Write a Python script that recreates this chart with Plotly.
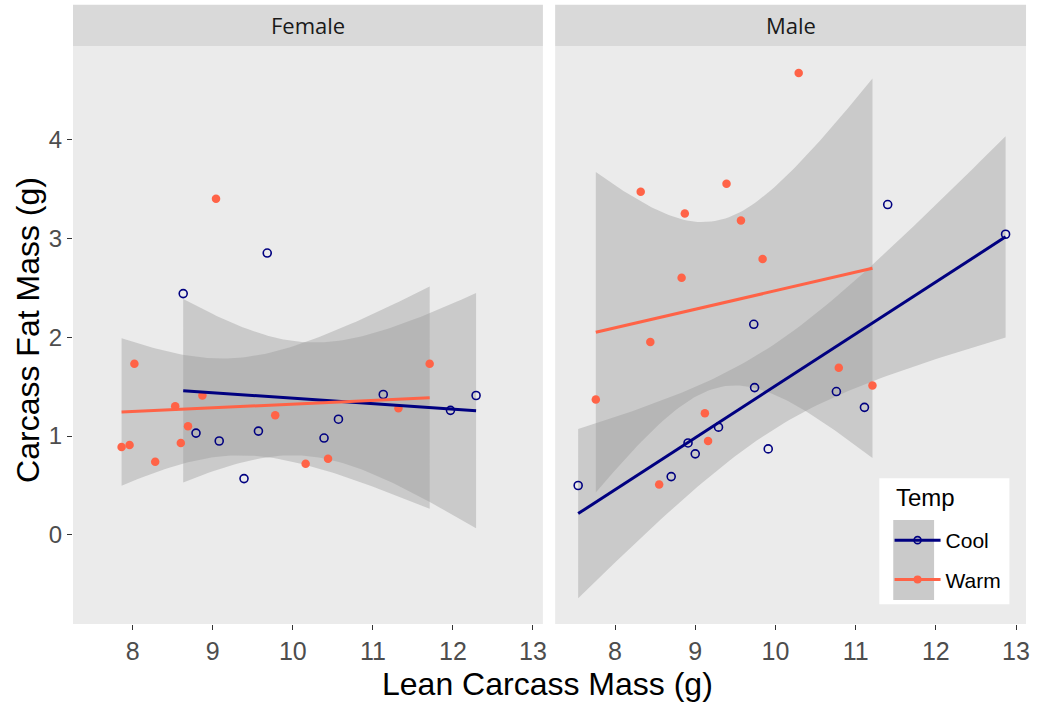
import math
import numpy as np
import plotly.graph_objects as go

# ---------------- data ----------------
female_cool_x = [8.63, 8.79, 9.08, 9.39, 9.57, 9.68, 10.39, 10.57, 11.13, 11.97, 12.29]
female_cool_y = [2.44, 1.03, 0.95, 0.57, 1.05, 2.85, 0.98, 1.17, 1.42, 1.26, 1.41]

female_warm_x = [7.86, 7.96, 8.02, 8.28, 8.53, 8.60, 8.69, 8.87, 9.04, 9.78, 10.16, 10.44, 11.32, 11.71]
female_warm_y = [0.89, 0.91, 1.73, 0.74, 1.30, 0.93, 1.10, 1.41, 3.40, 1.21, 0.72, 0.77, 1.28, 1.73]

male_cool_x = [7.54, 8.70, 8.91, 9.00, 9.29, 9.73, 9.74, 9.91, 10.76, 11.11, 11.40, 12.87]
male_cool_y = [0.50, 0.59, 0.93, 0.82, 1.09, 2.13, 1.49, 0.87, 1.45, 1.29, 3.34, 3.04]

male_warm_x = [7.76, 8.32, 8.44, 8.55, 8.83, 8.87, 9.12, 9.16, 9.39, 9.57, 9.84, 10.29, 10.79, 11.21]
male_warm_y = [1.37, 3.47, 1.95, 0.51, 2.60, 3.25, 1.23, 0.95, 3.55, 3.18, 2.79, 4.67, 1.69, 1.51]

panels = ["Female", "Male"]
temps = ["Cool", "Warm"]
x_ticks = [8, 9, 10, 11, 12, 13]
y_ticks = [0, 1, 2, 3, 4]

LEVEL = 0.975  # confidence level of the smoothing band

NAVY = "#000080"
TOMATO = "#FF6347"
colors = {"Cool": NAVY, "Warm": TOMATO}


def t_quantile(p, df):
    """Quantile of Student t by numeric integration + bisection."""
    c = math.exp(math.lgamma((df + 1) / 2) - math.lgamma(df / 2)) / math.sqrt(df * math.pi)

    def cdf(t):
        g = np.linspace(0.0, t, 4001)
        pdf = c * (1 + g ** 2 / df) ** (-(df + 1) / 2)
        return 0.5 + np.trapezoid(pdf, g)

    lo, hi = 0.0, 50.0
    for _ in range(60):
        mid = (lo + hi) / 2
        if cdf(mid) < p:
            lo = mid
        else:
            hi = mid
    return (lo + hi) / 2


def lm_band(xs, ys, n_out=80):
    x = np.asarray(xs, float)
    y = np.asarray(ys, float)
    n = len(x)
    xm = x.mean()
    sxx = ((x - xm) ** 2).sum()
    b = ((x - xm) * (y - y.mean())).sum() / sxx
    a = y.mean() - b * xm
    resid = y - (a + b * x)
    s = np.sqrt((resid ** 2).sum() / (n - 2))
    xg = np.linspace(x.min(), x.max(), n_out)
    fit = a + b * xg
    se = s * np.sqrt(1.0 / n + (xg - xm) ** 2 / sxx)
    t = t_quantile(1 - (1 - LEVEL) / 2, n - 2)
    return xg, fit, fit - t * se, fit + t * se


data = {
    ("Female", "Cool"): (female_cool_x, female_cool_y),
    ("Female", "Warm"): (female_warm_x, female_warm_y),
    ("Male", "Cool"): (male_cool_x, male_cool_y),
    ("Male", "Warm"): (male_warm_x, male_warm_y),
}

fig = go.Figure()
axis_map = {"Female": ("x", "y"), "Male": ("x2", "y2")}

# ribbons first (below lines and points)
for p in panels:
    xa, ya = axis_map[p]
    for t in temps:
        xs, ys = data[(p, t)]
        xg, fit, lo, hi = lm_band(xs, ys)
        fig.add_trace(go.Scatter(
            x=np.concatenate([xg, xg[::-1]]), y=np.concatenate([hi, lo[::-1]]),
            fill="toself", fillcolor="rgba(153,153,153,0.4)", mode="lines",
            line=dict(width=0), hoverinfo="skip", showlegend=False,
            xaxis=xa, yaxis=ya))

for p in panels:
    xa, ya = axis_map[p]
    for t in temps:
        xs, ys = data[(p, t)]
        if t == "Cool":
            marker = dict(symbol="circle-open", size=8, color=colors[t],
                          line=dict(width=1.6, color=colors[t]))
        else:
            marker = dict(symbol="circle", size=8.5, color=colors[t])
        fig.add_trace(go.Scatter(x=xs, y=ys, mode="markers", marker=marker,
                                 showlegend=False, xaxis=xa, yaxis=ya))
    for t in temps:
        xs, ys = data[(p, t)]
        xg, fit, lo, hi = lm_band(xs, ys)
        fig.add_trace(go.Scatter(x=xg, y=fit, mode="lines",
                                 line=dict(color=colors[t], width=3),
                                 showlegend=False, xaxis=xa, yaxis=ya))

# legend-only entries
for i, t in enumerate(temps):
    if t == "Cool":
        marker = dict(symbol="circle-open", size=7, color=colors[t],
                      line=dict(width=1.6, color=colors[t]))
    else:
        marker = dict(symbol="circle", size=8, color=colors[t])
    fig.add_trace(go.Scatter(x=[None], y=[None], mode="lines+markers", name=t,
                             line=dict(color=colors[t], width=3), marker=marker,
                             legendgroup=t, showlegend=True, xaxis="x2", yaxis="y2"))

W, H = 1038, 706
dom_f = [73.3 / W, 545.0 / W]
dom_m = [557.3 / W, 1030.0 / W]
dom_y = [(H - 624.0) / H, (H - 46.0) / H]
strip_y = [(H - 46.0) / H, (H - 4.7) / H]

xr = [7.253, 13.125]
yr = [-0.90, 4.943]

common_x = dict(range=xr, tickvals=x_ticks, ticktext=[str(v) for v in x_ticks],
                showgrid=False, zeroline=False, showline=False,
                ticks="outside", ticklen=5, tickwidth=1, tickcolor="#333333",
                tickfont=dict(family="Liberation Sans, Arial", size=25, color="#4D4D4D"),
                fixedrange=True)
common_y = dict(range=yr, domain=dom_y, tickvals=y_ticks,
                showgrid=False, zeroline=False, showline=False,
                ticklen=5, tickwidth=1, tickcolor="#333333",
                tickfont=dict(family="Liberation Sans, Arial", size=24, color="#4D4D4D"),
                fixedrange=True)

fig.update_layout(
    width=W, height=H,
    margin=dict(l=0, r=0, t=0, b=0),
    paper_bgcolor="white", plot_bgcolor="#EBEBEB",
    font=dict(family="Liberation Sans, Arial", color="black"),
    xaxis=dict(domain=dom_f, anchor="y", **common_x),
    xaxis2=dict(domain=dom_m, anchor="y2", **common_x),
    yaxis=dict(anchor="x", ticks="outside", **common_y),
    yaxis2=dict(anchor="x2", matches="y", showticklabels=False, ticks="", **common_y),
    showlegend=True,
    legend=dict(font=dict(size=21, color="black"),
                x=893 / W, y=(H - 520) / H, xanchor="left", yanchor="top",
                bgcolor="rgba(0,0,0,0)", borderwidth=0,
                itemwidth=46, tracegroupgap=9, traceorder="grouped"),
)

shapes = []
annotations = []
for p, dom in zip(panels, [dom_f, dom_m]):
    shapes.append(dict(type="rect", xref="paper", yref="paper",
                       x0=dom[0], x1=dom[1], y0=strip_y[0], y1=strip_y[1],
                       fillcolor="#D9D9D9", line=dict(width=0), layer="below"))
    annotations.append(dict(text=p, xref="paper", yref="paper",
                            x=(dom[0] + dom[1]) / 2, y=(strip_y[0] + strip_y[1]) / 2,
                            xanchor="center", yanchor="middle", showarrow=False,
                            font=dict(family="Open Sans", size=22, color="#1A1A1A")))

# legend background boxes
shapes.append(dict(type="rect", xref="paper", yref="paper",
                   x0=882.7 / W, x1=1013.3 / W, y0=(H - 604.3) / H, y1=(H - 478.3) / H,
                   fillcolor="white", line=dict(width=0), layer="above"))
shapes.append(dict(type="rect", xref="paper", yref="paper",
                   x0=896.7 / W, x1=937.7 / W, y0=(H - 600) / H, y1=(H - 520) / H,
                   fillcolor="#CACACA", line=dict(width=0), layer="above"))

annotations.append(dict(text="Temp", xref="paper", yref="paper",
                        x=897 / W, y=(H - 497) / H, xanchor="left", yanchor="middle",
                        showarrow=False, font=dict(size=24, color="black")))
annotations.append(dict(text="Lean Carcass Mass (g)", xref="paper", yref="paper",
                        x=550 / W, y=(H - 684) / H, xanchor="center", yanchor="middle",
                        showarrow=False, font=dict(size=32, color="black")))
annotations.append(dict(text="Carcass Fat Mass (g)", xref="paper", yref="paper",
                        x=28 / W, y=(H - 330) / H, xanchor="center", yanchor="middle",
                        textangle=-90, showarrow=False, font=dict(size=32, color="black")))

fig.update_layout(shapes=shapes, annotations=annotations)

fig.write_html("out.html")
